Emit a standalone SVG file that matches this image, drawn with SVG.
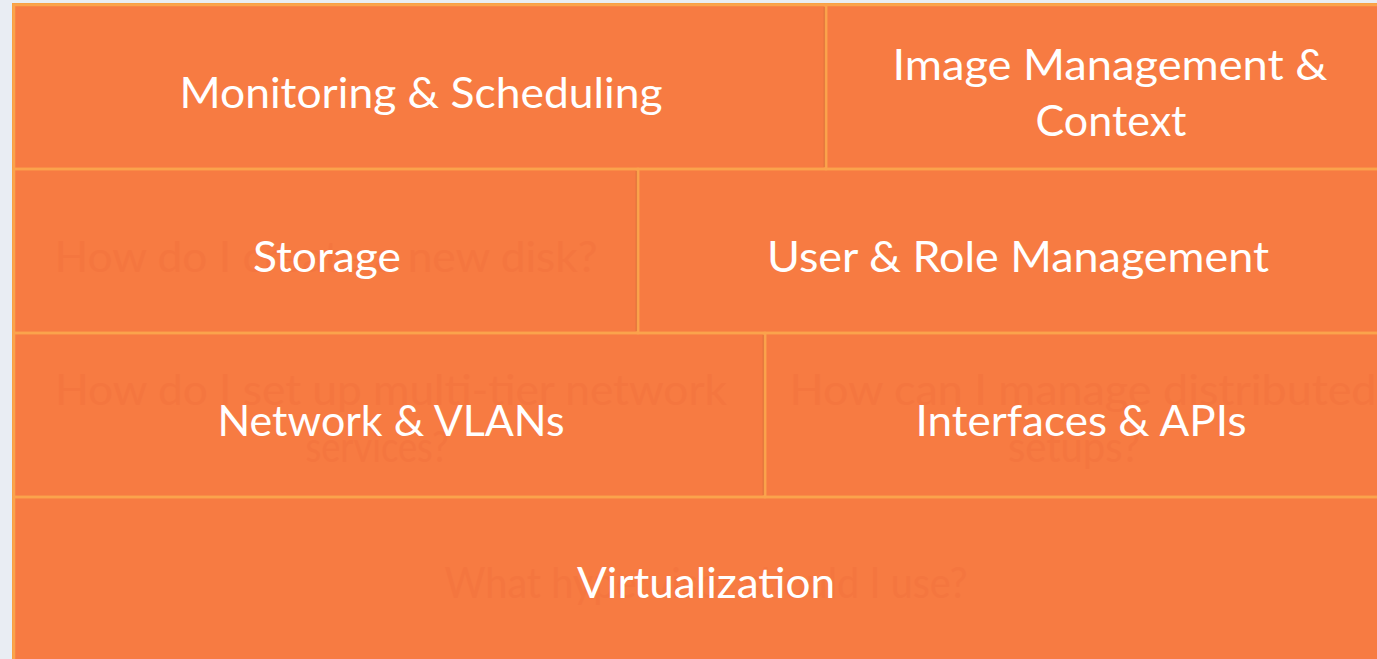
<svg xmlns="http://www.w3.org/2000/svg" width="1377" height="659" viewBox="0 0 1377 659">
  <style>
    .cell { fill: none; stroke: #fba34c; stroke-width: 2.5; }
    .shade { stroke: #d9713a; stroke-width: 1.5; opacity: 0.6; }
    .lbl { font-family: Lato, "Open Sans", "Liberation Sans", sans-serif; font-size: 43px; fill: #ffffff; text-anchor: middle; }
    .ghost { font-family: Lato, "Open Sans", "Liberation Sans", sans-serif; font-size: 43px; fill: #f2703d; text-anchor: middle; opacity: 0.45; }
  </style>
  <rect x="0" y="0" width="1377" height="659" fill="#e9edf3"/>
  <rect x="13" y="4" width="1370" height="660" fill="#f77b42" stroke="#f7a040" stroke-width="2"/>

  <g id="ghost-text">
    <text class="ghost" x="326" y="272" textLength="543" lengthAdjust="spacingAndGlyphs">How do I create a new disk?</text>
    <text class="ghost" x="391" y="405" textLength="672" lengthAdjust="spacingAndGlyphs">How do I set up multi-tier network</text>
    <text class="ghost" x="377" y="462" textLength="143" lengthAdjust="spacingAndGlyphs">services?</text>
    <text class="ghost" x="1083" y="405" textLength="587" lengthAdjust="spacingAndGlyphs">How can I manage distributed</text>
    <text class="ghost" x="1074" y="462" textLength="132" lengthAdjust="spacingAndGlyphs">setups?</text>
    <text class="ghost" x="706" y="598" textLength="523" lengthAdjust="spacingAndGlyphs">What hypervisor should I use?</text>
  </g>

  <g id="monitoring-scheduling">
    <rect class="cell" x="14" y="5" width="812" height="164"/>
    <text class="lbl" x="421" y="108" textLength="483" lengthAdjust="spacingAndGlyphs">Monitoring &amp; Scheduling</text>
  </g>
  <g id="image-management-context">
    <rect class="cell" x="826" y="5" width="560" height="164"/>
    <line class="shade" x1="824.3" y1="7" x2="824.3" y2="167"/>
    <text class="lbl" x="1110" y="80" textLength="435" lengthAdjust="spacingAndGlyphs">Image Management &amp;</text>
    <text class="lbl" x="1111" y="136" textLength="151" lengthAdjust="spacingAndGlyphs">Context</text>
  </g>
  <g id="storage">
    <rect class="cell" x="14" y="169" width="624" height="164"/>
    <text class="lbl" x="327" y="272" textLength="148" lengthAdjust="spacingAndGlyphs">Storage</text>
  </g>
  <g id="user-role-management">
    <rect class="cell" x="638" y="169" width="748" height="164"/>
    <line class="shade" x1="636.3" y1="171" x2="636.3" y2="331"/>
    <text class="lbl" x="1018" y="272" textLength="502" lengthAdjust="spacingAndGlyphs">User &amp; Role Management</text>
  </g>
  <g id="network-vlans">
    <rect class="cell" x="14" y="333" width="751" height="164"/>
    <text class="lbl" x="391" y="436" textLength="347" lengthAdjust="spacingAndGlyphs">Network &amp; VLANs</text>
  </g>
  <g id="interfaces-apis">
    <rect class="cell" x="765" y="333" width="621" height="164"/>
    <line class="shade" x1="763.3" y1="335" x2="763.3" y2="495"/>
    <text class="lbl" x="1081" y="436" textLength="331" lengthAdjust="spacingAndGlyphs">Interfaces &amp; APIs</text>
  </g>
  <g id="virtualization">
    <rect class="cell" x="14" y="497" width="1372" height="170"/>
    <text class="lbl" x="706" y="598" textLength="258" lengthAdjust="spacingAndGlyphs">Virtualization</text>
  </g>
  <g id="connectors"/>
</svg>
